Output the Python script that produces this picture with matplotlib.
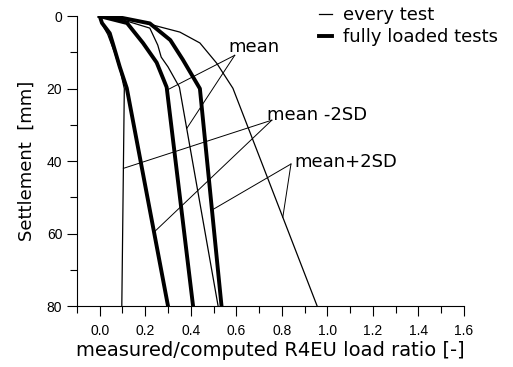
import numpy as np
import matplotlib
matplotlib.use("Agg")
import matplotlib.pyplot as plt
from matplotlib.ticker import MultipleLocator

# settlement [mm] vs measured/computed load ratio
# every test (thin)
all_mean_s = [0, 1, 3.3, 8, 11.3, 14, 19.6, 80]
all_mean_r = [0, 0.10, 0.22, 0.255, 0.27, 0.30, 0.35, 0.52]
all_lo_s = [0, 2, 5, 10, 15, 20, 80]
all_lo_r = [0, 0.008, 0.035, 0.065, 0.09, 0.108, 0.097]
all_hi_s = [0, 0.5, 2, 4.4, 7.4, 13, 19.9, 80]
all_hi_r = [0, 0.09, 0.206, 0.352, 0.44, 0.514, 0.585, 0.955]

# fully loaded tests (thick)
full_mean_s = [0, 1.9, 7.4, 12.8, 19.6, 80]
full_mean_r = [0, 0.12, 0.19, 0.25, 0.294, 0.41]
full_lo_s = [0, 1.9, 4.7, 7.4, 14, 19.9, 80]
full_lo_r = [0, 0.01, 0.044, 0.057, 0.088, 0.119, 0.30]
full_hi_s = [0, 0.5, 2, 6.6, 12, 20, 80]
full_hi_r = [0, 0.1, 0.22, 0.31, 0.365, 0.44, 0.535]

fig = plt.figure(figsize=(5.13, 3.67), dpi=100)
ax = fig.add_axes([0.150, 0.166, 0.7545, 0.790])

thin = dict(color="black", lw=0.9)
thick = dict(color="black", lw=2.8)

ax.plot(all_mean_r, all_mean_s, label="every test", **thin)
ax.plot(all_lo_r, all_lo_s, **thin)
ax.plot(all_hi_r, all_hi_s, **thin)
ax.plot(full_mean_r, full_mean_s, label="fully loaded tests", **thick)
ax.plot(full_lo_r, full_lo_s, **thick)
ax.plot(full_hi_r, full_hi_s, **thick)

# annotation leaders: (text, text x, text y, apex x, apex y, [(curve, settlement)])
notes = [
    ("mean", 0.563, 8.4, 0.593, 10.8,
     [(full_mean_s, full_mean_r, 20.4), (all_mean_s, all_mean_r, 31.0)]),
    ("mean -2SD", 0.734, 27.3, 0.756, 28.7,
     [(all_lo_s, all_lo_r, 42.0), (full_lo_s, full_lo_r, 59.6)]),
    ("mean+2SD", 0.857, 40.3, 0.84, 40.8,
     [(full_hi_s, full_hi_r, 53.5), (all_hi_s, all_hi_r, 55.5)]),
]
for txt, tx, ty, apx, apy, targets in notes:
    ax.text(tx, ty, txt, ha="left", va="center", fontsize=13,
            family="DejaVu Sans")
    for s, r, at in targets:
        ax.plot([apx, np.interp(at, s, r)], [apy, at], color="black", lw=0.7)

ax.set_xlim(-0.1, 1.6)
ax.set_ylim(80, 0)
ax.xaxis.set_minor_locator(MultipleLocator(0.1))
ax.yaxis.set_major_locator(MultipleLocator(20))
ax.yaxis.set_minor_locator(MultipleLocator(10))
ax.set_xticks(np.arange(0, 1.61, 0.2))
ax.set_xticklabels([f"{v:.1f}" for v in np.arange(0, 1.61, 0.2)])
ax.tick_params(which="major", direction="out", length=7, width=0.8,
               labelsize=10)
ax.tick_params(axis="x", which="major", pad=6)
ax.tick_params(which="minor", direction="out", length=5, width=0.8)
for lab in ax.get_xticklabels() + ax.get_yticklabels():
    lab.set_family("Liberation Sans")

for side in ("top", "right"):
    ax.spines[side].set_visible(False)

ax.set_xlabel("measured/computed R4EU load ratio [-]", fontsize=14,
              family="DejaVu Sans", labelpad=2)
ax.set_ylabel("Settlement  [mm]", fontsize=13, family="DejaVu Sans",
              labelpad=8)

leg = ax.legend(loc="upper left", bbox_to_anchor=(0.584, 1.09), frameon=False,
                handlelength=0.7, handletextpad=0.6, labelspacing=0.2,
                prop={"family": "DejaVu Sans", "size": 13})

fig.savefig("out.png", dpi=100)
